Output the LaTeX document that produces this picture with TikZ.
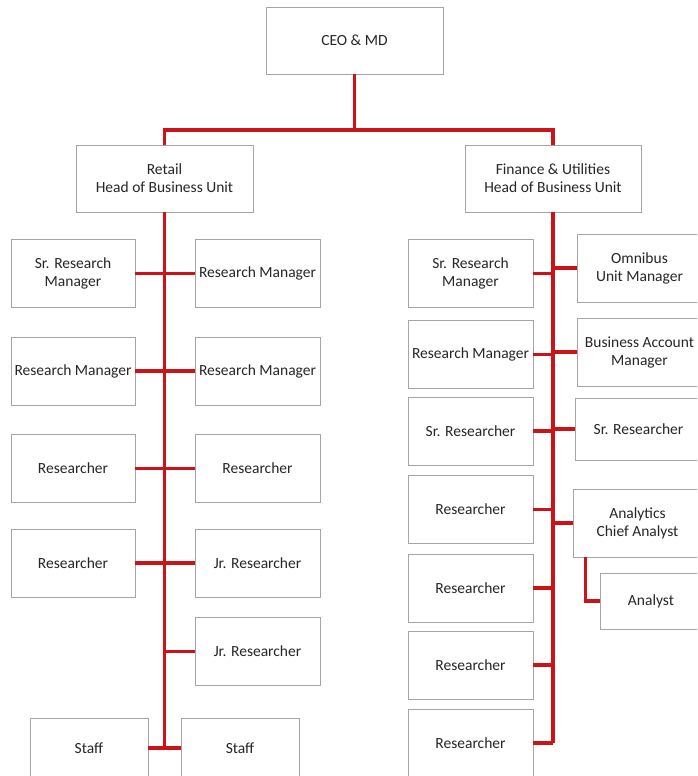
\documentclass[tikz,border=0pt]{standalone}
\usepackage{fontspec}
\setmainfont{Carlito}
\usepackage{tikz}
\usetikzlibrary{positioning}
\definecolor{linkred}{RGB}{204,20,24}
\definecolor{boxgray}{RGB}{165,165,165}
\tikzset{
  unit/.style={draw=boxgray, line width=0.9pt, fill=white, inner sep=1pt,
    minimum width=125, minimum height=68, align=center,
    text=black!85, font=\fontsize{15.5}{18}\selectfont},
  link/.style={draw=linkred, line width=3.2pt}
}
\begin{document}
\begin{tikzpicture}[x=1pt, y=-1pt]
   \clip (0,0) rectangle (697,776);
   \fill[white] (0,0) rectangle (697,776);
   \node[unit, minimum width=177, minimum height=67] (ceo) at (354.5,40.5) {CEO \& MD};
   \node[unit, minimum width=177, minimum height=67] (retail) at (164.5,178.5) {Retail\\Head of Business Unit};
   \node[unit, minimum width=176, minimum height=67] (finance) at (553,178.5) {Finance \& Utilities\\Head of Business Unit};
   \coordinate (split) at (354.5,130);
   \node[unit, minimum width=124] (rl1) at (73,273.5) {Sr. Research\\Manager};
   \node[unit] (rr1) at (257.5,273.5) {Research Manager};
   \node[unit, minimum width=124] (rl2) at (73,371) {Research Manager};
   \node[unit] (rr2) at (257.5,371) {Research Manager};
   \node[unit, minimum width=124] (rl3) at (73,468.5) {Researcher};
   \node[unit] (rr3) at (257.5,468.5) {Researcher};
   \node[unit, minimum width=124] (rl4) at (73,563) {Researcher};
   \node[unit] (rr4) at (257.5,563) {Jr. Researcher};
   \node[unit] (rr5) at (257.5,651.5) {Jr. Researcher};
   \node[unit, minimum width=118, minimum height=60] (staffl) at (89,748) {Staff};
   \node[unit, minimum width=118, minimum height=60] (staffr) at (240,748) {Staff};
   \node[unit] (fl1) at (470.5,273.5) {Sr. Research\\Manager};
   \node[unit] (fl2) at (470.5,354.5) {Research Manager};
   \node[unit] (fl3) at (470.5,431) {Sr. Researcher};
   \node[unit] (fl4) at (470.5,509.5) {Researcher};
   \node[unit] (fl5) at (470.5,588) {Researcher};
   \node[unit] (fl6) at (470.5,665) {Researcher};
   \node[unit] (fl7) at (470.5,743) {Researcher};
   \node[unit, minimum width=125] (omni) at (639.5,268) {Omnibus\\Unit Manager};
   \node[unit, minimum width=125] (bam) at (639.5,352) {Business Account\\Manager};
   \node[unit, minimum width=127, minimum height=62] (fr3) at (638.5,429) {Sr. Researcher};
   \node[unit, minimum width=129] (chief) at (637.5,523) {Analytics\\Chief Analyst};
   \node[unit, minimum width=102, minimum height=56] (analyst) at (651,601) {Analyst};
   \draw[link] (ceo.south) -- (split);
   \draw[link] (retail.north) |- (split) -| (finance.north);
   \draw[link] (retail.south) -- (retail.south |- staffl.east);
   \draw[link] (rl1.east) -- (rr1.west);
   \draw[link] (rl2.east) -- (rr2.west);
   \draw[link] (rl3.east) -- (rr3.west);
   \draw[link] (rl4.east) -- (rr4.west);
   \draw[link] (retail.south |- rr5.west) -- (rr5.west);
   \draw[link] (staffl.east) -- (staffr.west);
   \draw[link] (finance.south) -- (finance.south |- fl7.east);
   \draw[link] (fl1.east) -- (finance.south |- fl1.east);
   \draw[link] (fl2.east) -- (finance.south |- fl2.east);
   \draw[link] (fl3.east) -- (finance.south |- fl3.east);
   \draw[link] (fl4.east) -- (finance.south |- fl4.east);
   \draw[link] (fl5.east) -- (finance.south |- fl5.east);
   \draw[link] (fl6.east) -- (finance.south |- fl6.east);
   \draw[link] (fl7.east) -- (finance.south |- fl7.east);
   \draw[link] (finance.south |- omni.west) -- (omni.west);
   \draw[link] (finance.south |- bam.west) -- (bam.west);
   \draw[link] (finance.south |- fr3.west) -- (fr3.west);
   \draw[link] (finance.south |- chief.west) -- (chief.west);
   \draw[link] ([xshift=13pt]chief.south west) |- (analyst.west);
  \end{tikzpicture}
\end{document}
